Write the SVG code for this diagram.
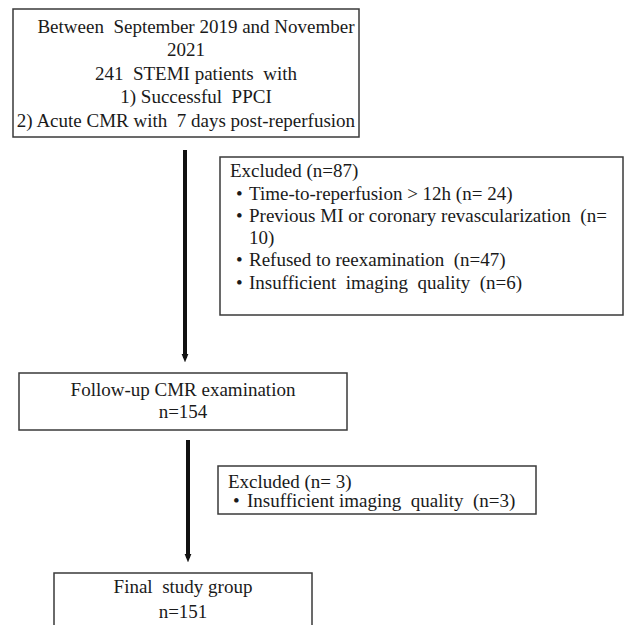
<svg xmlns="http://www.w3.org/2000/svg" width="625" height="625" viewBox="0 0 625 625">
<defs>
<marker id="ah" viewBox="0 0 10 10" refX="5" refY="5" markerWidth="2.2" markerHeight="2.2" orient="auto" markerUnits="strokeWidth">
<path d="M0,1 L10,5 L0,9 Z" fill="#111"/>
</marker>
<style>
.box{fill:#fff;stroke:#3a3a3a;stroke-width:1.5}
.t{font-family:"Liberation Serif","Times New Roman",serif;font-size:19px;fill:#1a1a1a}
.c{text-anchor:middle}
.conn{stroke:#111;stroke-width:4;fill:none}
</style>
</defs>
<rect width="625" height="625" fill="#fff"/>
<g id="connectors">
<line class="conn" x1="185" y1="150" x2="185" y2="358" marker-end="url(#ah)"/>
<line class="conn" x1="188" y1="440" x2="188" y2="558" marker-end="url(#ah)"/>
</g>
<g id="start">
<rect class="box" x="13" y="9" width="346" height="128"/>
<text class="t c" x="196" y="33" xml:space="preserve">Between  September 2019 and November</text>
<text class="t c" x="186" y="56">2021</text>
<text class="t c" x="196" y="80" xml:space="preserve">241  STEMI patients  with</text>
<text class="t c" x="196" y="103" xml:space="preserve">1) Successful  PPCI</text>
<text class="t c" x="186" y="127" xml:space="preserve">2) Acute CMR with  7 days post-reperfusion</text>
</g>
<g id="excluded1">
<rect class="box" x="220" y="157" width="403" height="158"/>
<text class="t" x="230" y="177">Excluded (n=87)</text>
<text class="t" x="236" y="200">•</text>
<text class="t" x="249" y="200">Time-to-reperfusion &gt; 12h (n= 24)</text>
<text class="t" x="236" y="222">•</text>
<text class="t" x="249" y="222" xml:space="preserve">Previous MI or coronary revascularization  (n=</text>
<text class="t" x="249" y="244">10)</text>
<text class="t" x="236" y="266">•</text>
<text class="t" x="249" y="266" xml:space="preserve">Refused to reexamination  (n=47)</text>
<text class="t" x="236" y="289">•</text>
<text class="t" x="249" y="289" xml:space="preserve">Insufficient  imaging  quality  (n=6)</text>
</g>
<g id="followup">
<rect class="box" x="19" y="373" width="328" height="57"/>
<text class="t c" x="183" y="396">Follow-up CMR examination</text>
<text class="t c" x="183" y="418">n=154</text>
</g>
<g id="excluded2">
<rect class="box" x="218" y="466" width="318" height="48"/>
<text class="t" x="228" y="488">Excluded (n= 3)</text>
<text class="t" x="233" y="507">•</text>
<text class="t" x="247" y="507" xml:space="preserve">Insufficient imaging  quality  (n=3)</text>
</g>
<g id="final">
<rect class="box" x="54" y="573" width="258" height="70"/>
<text class="t c" x="183" y="593" xml:space="preserve">Final  study group</text>
<text class="t c" x="183" y="618">n=151</text>
</g>
</svg>
